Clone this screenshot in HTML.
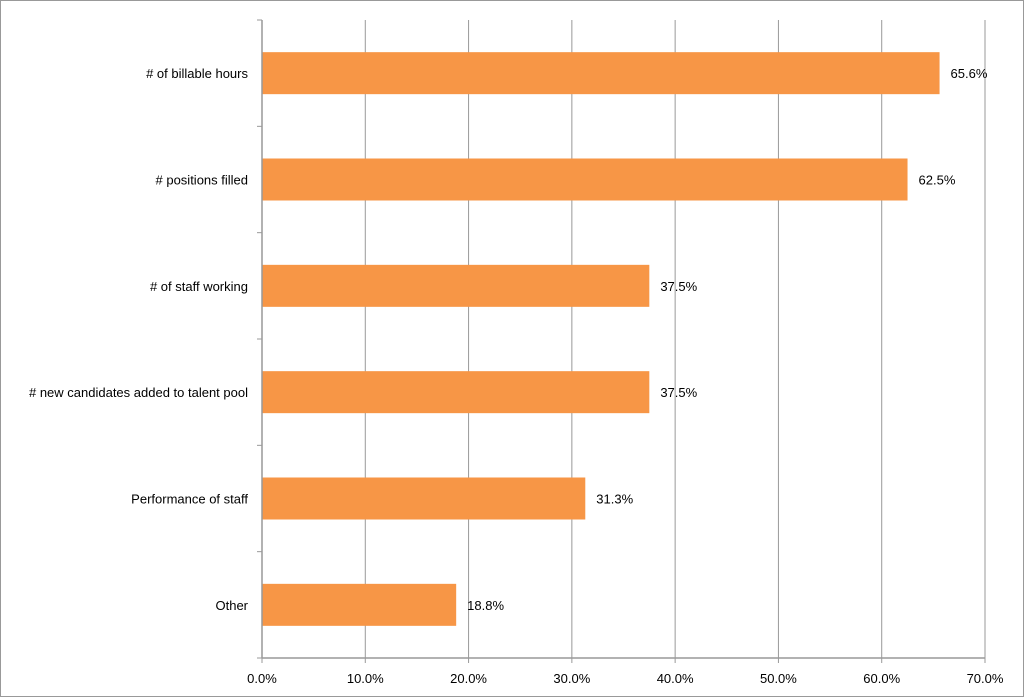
<!DOCTYPE html>
<html><head><meta charset="utf-8"><style>
html,body{margin:0;padding:0;background:#fff}
svg{display:block;font-family:"Liberation Sans",sans-serif}
</style></head><body>
<svg width="1024" height="697">
<rect x="0.5" y="0.5" width="1023" height="696" fill="#fff" stroke="#999"/>
<g id="grid"></g><g id="bars"></g><g id="axes"></g>
</svg>
<script>
const categories=["# of billable hours","# positions filled","# of staff working","# new candidates added to talent pool","Performance of staff","Other"];
const values=[65.6,62.5,37.5,37.5,31.3,18.8];
const valueLabels=["65.6%","62.5%","37.5%","37.5%","31.3%","18.8%"];
const ticks=[0,10,20,30,40,50,60,70];
const tickLabels=["0.0%","10.0%","20.0%","30.0%","40.0%","50.0%","60.0%","70.0%"];
const NS="http://www.w3.org/2000/svg";
const x0=262,x1=985,xmax=70,yTop=20,yBot=658;
const X=v=>x0+(x1-x0)*v/xmax;
const band=(yBot-yTop)/categories.length;
function mk(t,a,p){const e=document.createElementNS(NS,t);for(const k in a)e.setAttribute(k,a[k]);p.appendChild(e);return e;}
const grid=document.getElementById('grid'),bars=document.getElementById('bars'),axes=document.getElementById('axes');
ticks.forEach((t,i)=>{
  if(i>0){const g=mk('line',{x1:X(t),x2:X(t),y1:yTop,y2:yBot,stroke:'#999','stroke-width':1},grid);
  
  }
  const tk=mk('line',{x1:X(t),x2:X(t),y1:yBot,y2:yBot+5,stroke:'#999'},axes);
  
  
  const l=mk('text',{x:X(t),y:683,'text-anchor':'middle','font-size':13,fill:'#000'},axes);
  l.textContent=tickLabels[i];
  
  
});
for(let i=0;i<=categories.length;i++){
  const tk=mk('line',{x1:x0-5,x2:x0,y1:yTop+band*i,y2:yTop+band*i,stroke:'#999'},axes);
  
  
}
const ax=mk('line',{x1:x0,x2:x0,y1:yTop,y2:yBot,stroke:'#999','stroke-width':1.5},axes);


const bx=mk('line',{x1:x0,x2:x1,y1:yBot,y2:yBot,stroke:'#999','stroke-width':1.5},axes);


categories.forEach((c,i)=>{
  const cy=yTop+band*(i+0.5);
  const r=mk('rect',{x:x0,y:cy-21,width:X(values[i])-x0,height:42,fill:'#f79646'},bars);
  
  
  const v=mk('text',{x:X(values[i])+11,y:cy+5,'font-size':13,fill:'#000'},bars);
  v.textContent=valueLabels[i];
  
  
  const l=mk('text',{x:248,y:cy+5,'text-anchor':'end','font-size':13,fill:'#000'},axes);
  l.textContent=c;
  
  
});
</script>
</body></html>
